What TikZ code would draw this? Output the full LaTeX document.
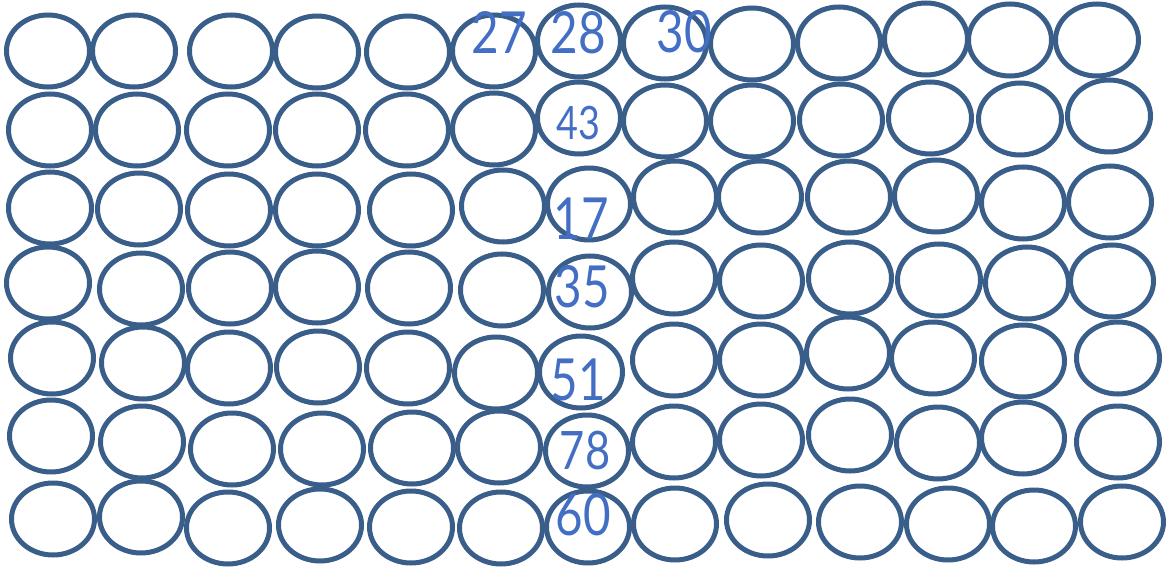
\documentclass[tikz,border=0pt]{standalone}
\usepackage{fontspec}
\usepackage{graphicx}
\setmainfont{Lato}
\usetikzlibrary{shapes.geometric}
\definecolor{ring}{RGB}{58,94,138}
\definecolor{num}{RGB}{66,110,196}
\newcommand{\narrow}[1]{\scalebox{0.82}[1]{#1}}
\tikzset{
  oval/.style={ellipse, draw=ring, line width=5pt, minimum width=83pt, minimum height=72pt, inner sep=0pt},
  numlbl/.style={text=num, inner sep=0pt, font=\fontsize{58}{58}\selectfont}
}
\begin{document}
\begin{tikzpicture}[x=1pt,y=-1pt]
\useasboundingbox (0,0) rectangle (1172,575);
\foreach \px/\py [count=\i] in {
  48/51,134/51,231/51,317/52,408/52,494/51,579/41,665/43,752/44,839/43,926/39,1010/40,1097/40,
  50/130,137/130,228/130,317/130,407/130,494/129,579/118,665/121,752/121,841/120,930/118,1020/119,1109/116,
  50/208,139/209,229/210,317/210,411/210,503/206,589/204,675/197,760/197,849/197,936/196,1023/203,1110/202,
  48/283,141/289,230/288,317/287,409/288,502/290,590/292,674/278,761/281,850/278,939/280,1027/283,1112/281,
  52/358,143/363,229/368,318/367,408/368,496/373,581/372,674/360,761/360,848/353,933/358,1023/361,1118/358,
  51/436,142/442,232/449,322/449,412/448,499/447,587/451,674/442,761/440,850/435,938/443,1023/438,1118/442,
  53/519,141/517,228/528,320/525,411/527,501/528,588/527,675/524,768/520,860/522,948/524,1034/526,1122/522}
  \node[oval] (e\i) at (\px,\py) {};
\node[numlbl] (n27) at (499,32) {\narrow{27}};
\node[numlbl] (n28) at (578,33) {\narrow{28}};
\node[numlbl] (n30) at (684,32) {\narrow{30}};
\node[numlbl, font=\fontsize{46}{46}\selectfont] (n43) at (578,123) {\narrow{43}};
\node[numlbl] (n17) at (581,219) {\narrow{17}};
\node[numlbl] (n35) at (582,287) {\narrow{35}};
\node[numlbl] (n51) at (578,380) {\narrow{51}};
\node[numlbl, font=\fontsize{53}{53}\selectfont] (n78) at (585,451) {\narrow{78}};
\node[numlbl] (n60) at (583,515) {\narrow{60}};
\end{tikzpicture}
\end{document}
